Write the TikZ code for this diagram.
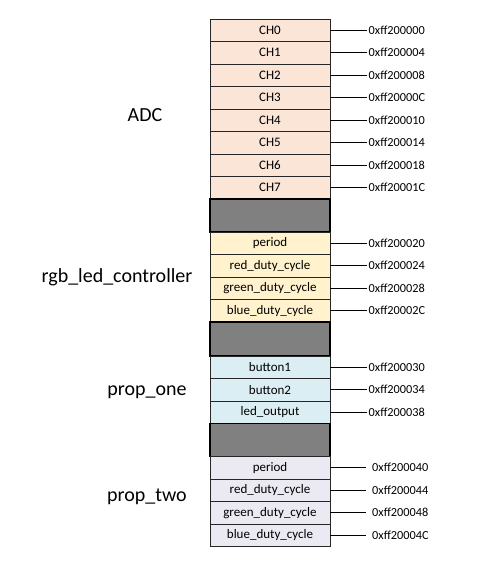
\documentclass[tikz,border=0pt]{standalone}
\usepackage{fontspec}
\setmainfont{Carlito}
\usetikzlibrary{positioning}
\definecolor{adcfill}{HTML}{FBE5D6}
\definecolor{rgbfill}{HTML}{FFF2CC}
\definecolor{onefill}{HTML}{DAEEF3}
\definecolor{twofill}{HTML}{EBE9F1}
\definecolor{gapfill}{HTML}{808080}
\definecolor{cellborder}{HTML}{262626}
\tikzset{
  regcell/.style={
    rectangle, draw=cellborder, line width=0.8pt,
    minimum width=120pt, minimum height=22.5pt, inner sep=0pt, outer sep=0pt,
    font=\fontsize{13}{15}\selectfont
  },
  adccell/.style={regcell, fill=adcfill},
  rgbcell/.style={regcell, fill=rgbfill},
  onecell/.style={regcell, fill=onefill},
  twocell/.style={regcell, fill=twofill},
  gapcell/.style={regcell, fill=gapfill, draw=black, line width=1.2pt, minimum height=33pt},
  addrlabel/.style={anchor=west, inner sep=1.5pt, font=\fontsize{12.3}{14}\selectfont},
  grouplabel/.style={font=\fontsize{20}{24}\selectfont},
  addrline/.style={draw=black, line width=0.8pt}
}
\begin{document}
\begin{tikzpicture}[x=1pt, y=-1pt]
  \useasboundingbox[fill=white] (0,0) rectangle (487,572);

  % ADC block
  \node[adccell, anchor=north] (ch0) at (270,19) {CH0};
  \foreach \i [evaluate=\i as \j using int(\i-1)] in {1,...,7}
    \node[adccell, below=0pt of ch\j] (ch\i) {CH\i};
  \node[gapcell, below=0pt of ch7] (gapa) {};

  % rgb_led_controller block
  \node[rgbcell, below=0pt of gapa] (rgbper) {period};
  \node[rgbcell, below=0pt of rgbper] (rgbred) {red\_duty\_cycle};
  \node[rgbcell, below=0pt of rgbred] (rgbgreen) {green\_duty\_cycle};
  \node[rgbcell, below=0pt of rgbgreen] (rgbblue) {blue\_duty\_cycle};
  \node[gapcell, below=0pt of rgbblue, minimum height=34pt] (gapb) {};

  % prop_one block
  \node[onecell, below=0pt of gapb] (btnone) {button1};
  \node[onecell, below=0pt of btnone] (btntwo) {button2};
  \node[onecell, below=0pt of btntwo] (ledout) {led\_output};
  \node[gapcell, below=0pt of ledout] (gapc) {};

  % prop_two block
  \node[twocell, below=0pt of gapc] (twoper) {period};
  \node[twocell, below=0pt of twoper] (twored) {red\_duty\_cycle};
  \node[twocell, below=0pt of twored] (twogreen) {green\_duty\_cycle};
  \node[twocell, below=0pt of twogreen] (twoblue) {blue\_duty\_cycle};

  % addresses
  \foreach \cell/\addr in {ch0/00, ch1/04, ch2/08, ch3/0C, ch4/10, ch5/14, ch6/18, ch7/1C,
      rgbper/20, rgbred/24, rgbgreen/28, rgbblue/2C,
      btnone/30, btntwo/34, ledout/38} {
    \node[addrlabel, right=37pt of \cell] (a\cell) {0xff2000\addr};
    \draw[addrline] (\cell.east) -- (a\cell.west);
  }
  \foreach \cell/\addr in {twoper/40, twored/44, twogreen/48, twoblue/4C} {
    \node[addrlabel, inner xsep=6pt, right=36pt of \cell] (a\cell) {0xff2000\addr};
    \draw[addrline] (\cell.east) -- (a\cell.west);
  }

  % group labels
  \node[grouplabel] (adclabel) at (145,115) {ADC};
  \node[grouplabel] (rgblabel) at (117,277) {rgb\_led\_controller};
  \node[grouplabel] (onelabel) at (147,392) {prop\_one};
  \node[grouplabel] (twolabel) at (147,497) {prop\_two};
\end{tikzpicture}
\end{document}
